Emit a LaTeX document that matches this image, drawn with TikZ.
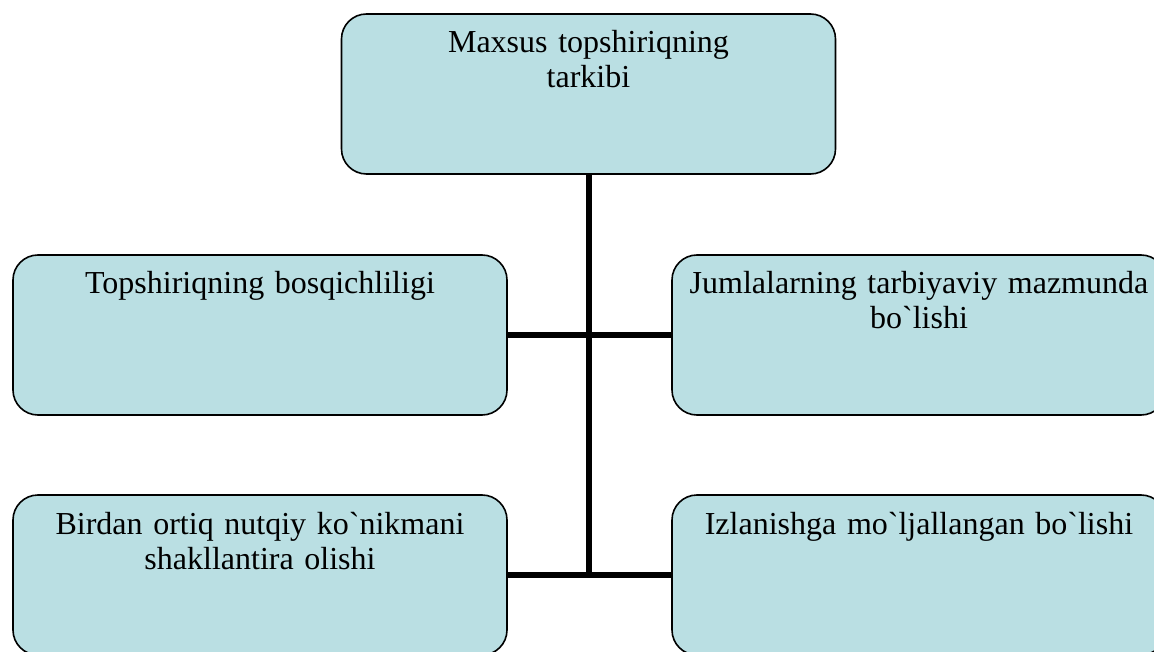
\documentclass[tikz,border=0pt]{standalone}
\usepackage{fontspec}
\setmainfont{Liberation Serif}
\usetikzlibrary{positioning}
\definecolor{cellfill}{RGB}{186,223,227}

\begin{document}
\begin{tikzpicture}[
		x=1pt, y=-1pt,
		cell/.style = {
			draw, line width=1.6pt, rounded corners=25pt,
			fill=cellfill,
			minimum width=494pt,
			minimum height=160pt,
			text width=484pt, align=center,
			inner sep=0pt, outer sep=0pt,
			text height=39pt, text depth=121pt,
			font=\fontsize{32}{35}\selectfont
		},
		link/.style = {line width=6pt}
		]
		\clip (0,0) rectangle (1154,652);
		\node [cell] (top) at (588.5,94) {Maxsus topshiriqning\\tarkibi};
		\node [cell] (stage) at (260,335) {Topshiriqning bosqichliligi};
		\node [cell, right=165pt of stage] (moral) {Jumlalarning tarbiyaviy mazmunda\\bo\textasciigrave lishi};
		\node [cell, below=80pt of stage] (skill) {Birdan ortiq nutqiy ko\textasciigrave nikmani\\shakllantira olishi};
		\node [cell, right=165pt of skill] (search) {Izlanishga mo\textasciigrave ljallangan bo\textasciigrave lishi};
		\coordinate (foot) at (top.south |- skill.east);
		\draw[link] (top.south) -- ([yshift=-3pt]foot);
		\draw[link] (stage.east) -- (moral.west);
		\draw[link] (skill.east) -- (search.west);
	\end{tikzpicture}
\end{document}
